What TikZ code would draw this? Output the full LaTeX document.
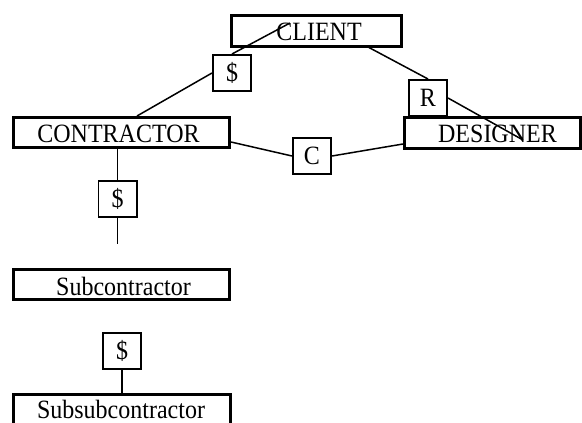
\documentclass[tikz,border=0pt]{standalone}
\usepackage{graphicx}
\usepackage{fontspec}
\setmainfont{Liberation Serif}
% text is set slightly taller than wide
\newcommand\tallword[1]{\scalebox{1}[1.1]{#1}}
\begin{document}
\begin{tikzpicture}[x=1pt,y=-1pt,
  party/.style={draw,line width=2.6pt,inner sep=0pt,minimum width=#1,minimum height=30.5pt},
  tag/.style={draw,line width=1.6pt,inner sep=0pt,minimum width=38.4pt,minimum height=36.4pt},
  link/.style={line width=1.5pt},
  lbl/.style={font=\fontsize{24}{28}\selectfont,inner sep=0pt}]
\clip (0,0) rectangle (582,423);
\useasboundingbox (0,0) rectangle (582,423);
% parties
\node[party=170.5pt] (client) at (316.5,31) {};
\node[lbl] (clienttext) at (319,32) {\tallword{CLIENT}};
\node[party=216.4pt] (contractor) at (121.5,132.5) {};
\node[lbl] (contractortext) at (118.5,134) {\tallword{CONTRACTOR}};
\node[party=176.4pt] (designer) at (492.5,133) {};
\node[lbl] (designertext) at (497.5,134) {\tallword{DESIGNER}};
\node[party=216.4pt] (sub) at (121.5,284.5) {};
\node[lbl] (subtext) at (123.5,286) {\tallword{Subcontractor}};
\node[party=217.4pt] (subsub) at (122,409.5) {};
\node[lbl] (subsubtext) at (121,409.5) {\tallword{Subsubcontractor}};
% relationship tags
\node[tag,lbl,draw,line width=1.6pt] (pay1) at (232,73) {\tallword{\$}};
\node[tag,lbl,draw,line width=1.6pt] (rel) at (428,98) {\tallword{R}};
\node[tag,lbl,draw,line width=1.6pt] (con) at (312,156) {\tallword{C}};
\node[tag,lbl,draw,line width=1.6pt] (pay2) at (117.5,199) {\tallword{\$}};
\node[tag,lbl,draw,line width=1.6pt] (pay3) at (122,351) {\tallword{\$}};
% free ends of the connectors
\coordinate (cA) at (290,23);
\coordinate (cB) at (137,116);
\coordinate (cC) at (231,142);
\coordinate (cD) at (403,144);
\coordinate (cE) at (368,47);
\coordinate (cF) at (523,140);
\coordinate (cG) at (117.5,244);
% connectors
\draw[link] (pay1.north) -- (cA);
\draw[link] (pay1.west) -- (cB);
\draw[link] (cC) -- (con.west);
\draw[link] (con.east) -- (cD);
\draw[link] (cE) -- (rel.north);
\draw[link] (rel.east) -- (cF);
\draw[link] (pay2.north) -- (pay2.north |- contractor.south);
\draw[link] (pay2.south) -- (cG);
\draw[link] (pay3.south) -- (subsub.north);
\end{tikzpicture}
\end{document}
